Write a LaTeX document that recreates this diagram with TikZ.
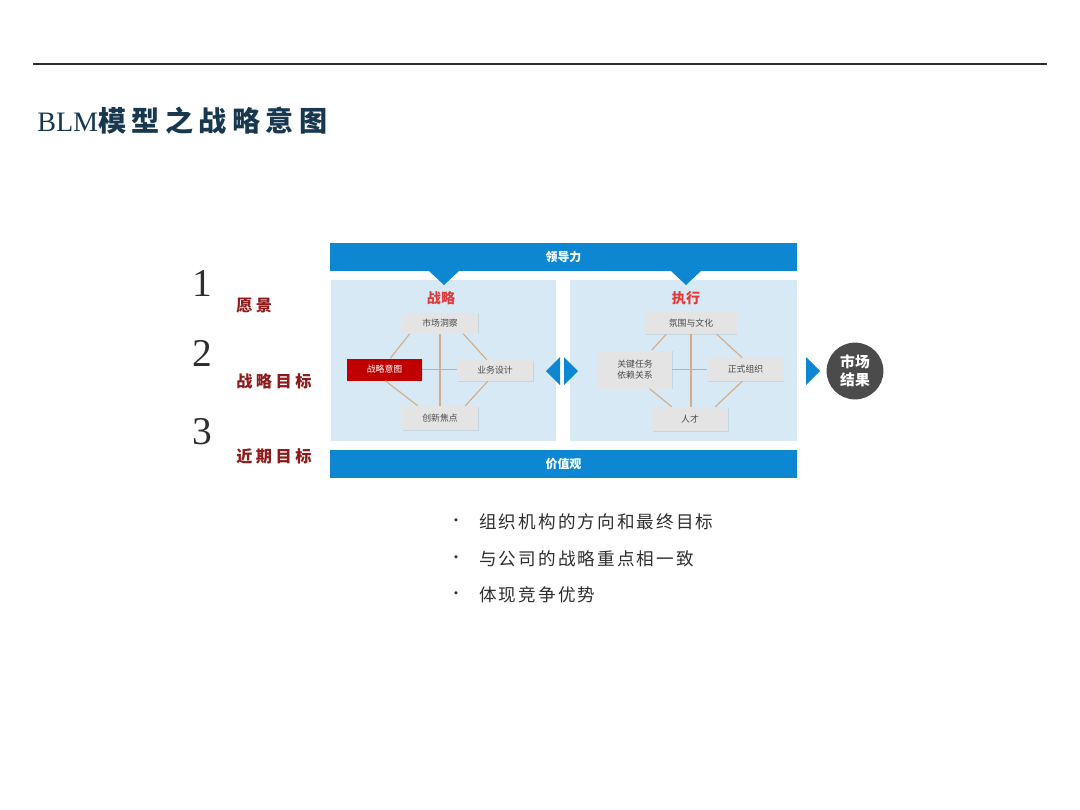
\documentclass[tikz,border=0pt]{standalone}
\usepackage{fontspec}
\setmainfont{Liberation Serif}
\newfontfamily\cjk{Noto Sans CJK SC}
\newfontfamily\cjkwide[LetterSpace=12]{Noto Sans CJK SC}
\newfontfamily\cjktitle[LetterSpace=19]{Noto Sans CJK SC}
\newfontfamily\cjklabel[LetterSpace=22]{Noto Sans CJK SC}
\usetikzlibrary{calc,shadows}
\definecolor{ink}{HTML}{2E2E2E}
\definecolor{titleink}{HTML}{17384F}
\definecolor{barblue}{HTML}{0D87D2}
\definecolor{panel}{HTML}{D6E9F5}
\definecolor{boxgrey}{HTML}{E4E4E4}
\definecolor{boxtext}{HTML}{4A4A4A}
\definecolor{stratred}{HTML}{C00000}
\definecolor{headred}{HTML}{E23A3A}
\definecolor{darkred}{HTML}{8E1B1B}
\definecolor{link}{HTML}{D8AC82}
\definecolor{result}{HTML}{4B4B4B}

\begin{document}
\begin{tikzpicture}[x=0.025cm,y=-0.025cm,
    bar/.style={fill=barblue,minimum width=11.675cm,minimum height=0.7cm,inner sep=0,text=white,font=\cjk\bfseries\fontsize{8.5}{9}\selectfont},
    pane/.style={fill=panel,minimum height=4.025cm,inner sep=0},
    blmbox/.style={fill=boxgrey,minimum width=1.9cm,minimum height=0.525cm,inner sep=0,text=boxtext,align=center,
      font=\cjk\fontsize{6.3}{7.5}\selectfont,drop shadow={opacity=0.18,shadow xshift=0.6pt,shadow yshift=-0.6pt}},
    head/.style={text=headred,font=\cjk\bfseries\fontsize{10}{11}\selectfont},
    blmline/.style={draw=link,line width=0.8pt},
    tri/.style={fill=barblue}]
  \useasboundingbox (0,0) rectangle (1080,810);
  % header
  \draw[ink,line width=0.75pt] (33,64) -- (1047,64);
  \node[anchor=west,inner sep=0,text=titleink,font=\fontsize{20}{22}\selectfont] (title) at (37,121) {BLM{\cjktitle\bfseries 模型之战略意图}};
  % left numbering
  \foreach \n/\y/\lbl/\ly in {1/283/愿景/306,2/353/战略目标/381,3/432/近期目标/456}{
    \node[inner sep=0,text=ink,font=\fontsize{28}{30}\selectfont] (num\n) at (202,\y) {\n};
    \node[anchor=west,inner sep=0,text=darkred,font=\cjklabel\bfseries\fontsize{11.5}{12}\selectfont] (goal\n) at (236,\ly) {\lbl};}
  % frame
  \node[bar] (lead) at (563.5,257) {领导力};
  \node[bar] (values) at (563.5,463.5) {价值观};
  \node[pane,minimum width=5.625cm] (stratpane) at (443.5,360.5) {};
  \node[pane,minimum width=5.675cm] (execpane) at (683.5,360.5) {};
  \fill[tri] (429,271) -- (459,271) -- (444,285) -- cycle;
  \fill[tri] (671,271) -- (701,271) -- (686,285) -- cycle;
  \fill[tri] (546,371) -- (560,357) -- (560,385) -- cycle;
  \fill[tri] (564,357) -- (578,371) -- (564,385) -- cycle;
  \fill[tri] (806,357) -- (820,371) -- (806,385) -- cycle;
  \node[circle,fill=result,minimum size=1.42cm,inner sep=0,text=white,align=center,font=\cjk\bfseries\fontsize{10.5}{12.5}\selectfont] (market) at (855,371) {市场\\结果};
  % strategy
  \node[head] (strat) at (441,298) {战略};
  \node[blmbox] (insight) at (440,323) {市场洞察};
  \node[blmbox,fill=stratred,text=white,minimum width=1.875cm,minimum height=0.55cm] (intent) at (384.5,369.5) {战略意图};
  \node[blmbox] (design) at (495,370.5) {业务设计};
  \node[blmbox,minimum height=0.6cm] (innov) at (440,418) {创新焦点};
  \draw[blmline] ($(insight.south west)+(8,0)$) -- ($(intent.north east)+(-32,0)$);
  \draw[blmline] ($(insight.south east)+(-15,0)$) -- ($(design.north west)+(30,0)$);
  \draw[blmline] ($(intent.south east)+(-37,0)$) -- ($(innov.north west)+(16,0)$);
  \draw[blmline] ($(design.south west)+(31,0)$) -- ($(innov.north east)+(-13,0)$);
  \draw[blmline] (insight.south) -- (insight.south |- innov.north);
  \draw[blmline] (intent.east) -- (intent.east -| design.west);
  % execution
  \node[head] (exec) at (686,298) {执行};
  \node[blmbox,minimum width=2.275cm,minimum height=0.55cm] (culture) at (691,323) {氛围与文化};
  \node[blmbox,minimum width=1.85cm,minimum height=0.95cm] (tasks) at (635,369.5) {关键任务\\依赖关系};
  \node[blmbox,minimum height=0.575cm] (org) at (745.5,369.5) {正式组织};
  \node[blmbox,minimum height=0.6cm] (talent) at (690,419) {人才};
  \draw[blmline] ($(culture.south west)+(21,0)$) -- ($(tasks.north west)+(54,0)$);
  \draw[blmline] ($(culture.south east)+(-20,0)$) -- ($(org.north west)+(35,0)$);
  \draw[blmline] ($(tasks.south west)+(52,0)$) -- ($(talent.north west)+(20,0)$);
  \draw[blmline] ($(org.south west)+(35,0)$) -- ($(talent.north east)+(-13,0)$);
  \draw[blmline] (culture.south) -- (culture.south |- talent.north);
  \draw[blmline] (tasks.east) -- (tasks.east -| org.west);
  % bullets
  \foreach \i/\txt in {0/组织机构的方向和最终目标,1/与公司的战略重点相一致,2/体现竞争优势}{
    \node[inner sep=0,text=ink,font=\fontsize{9}{10}\selectfont] (dot\i) at (456,522+\i*36.5) {•};
    \node[anchor=west,inner sep=0,text=ink,font=\cjkwide\fontsize{12.5}{14}\selectfont] (point\i) at (479,522+\i*36.5) {\txt};}
\end{tikzpicture}
\end{document}
